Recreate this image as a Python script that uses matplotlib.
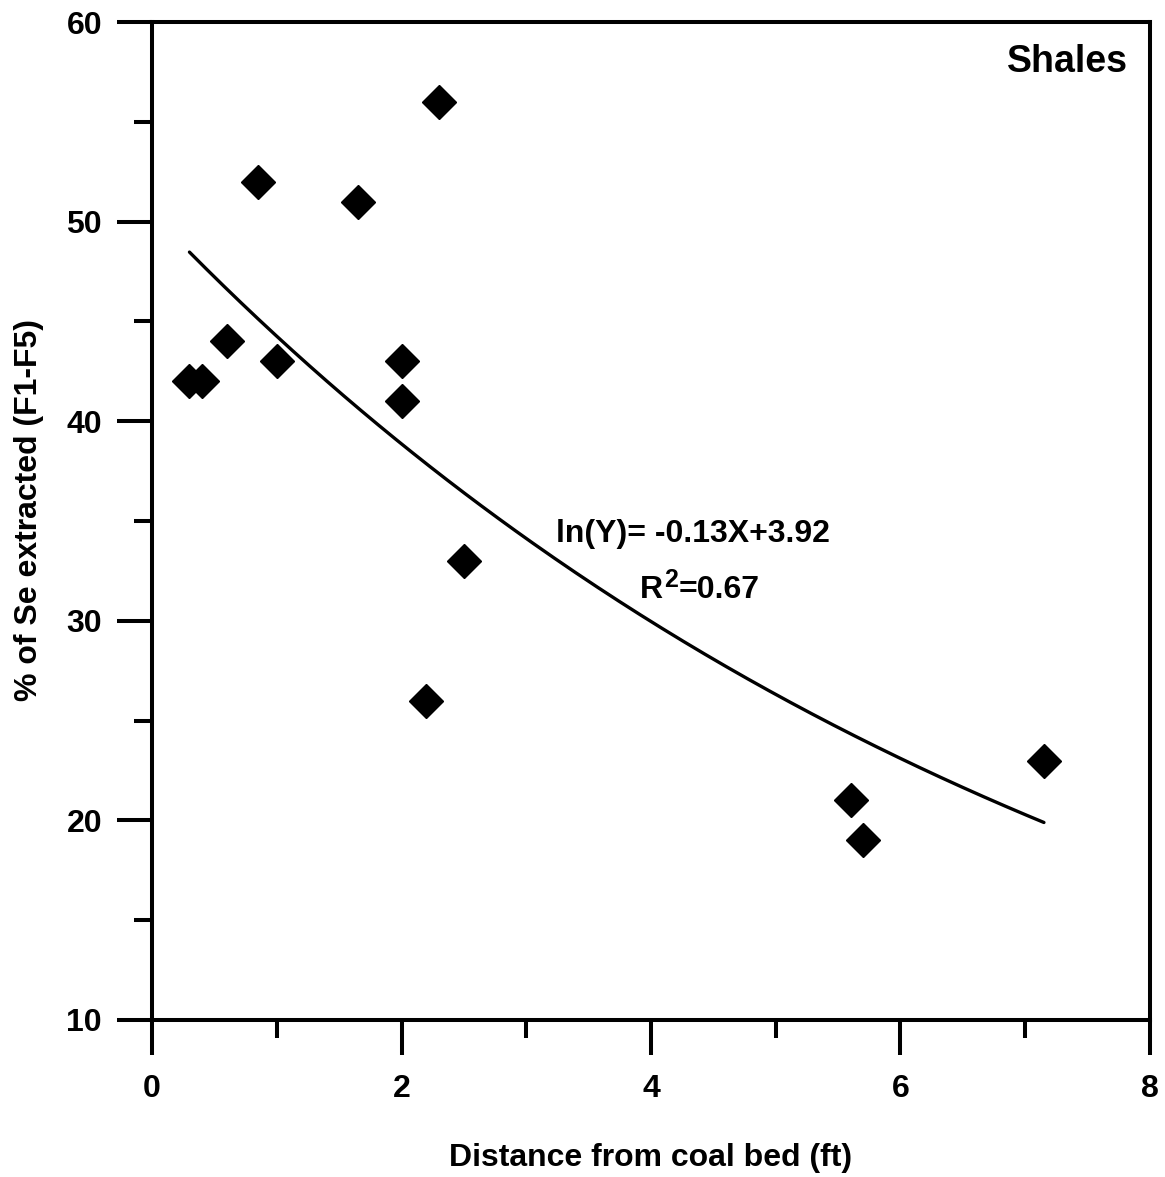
import numpy as np
import matplotlib
matplotlib.use("Agg")
import matplotlib.pyplot as plt
from matplotlib.ticker import MultipleLocator

plt.rcParams['font.family'] = ['Liberation Sans', 'DejaVu Sans']
plt.rcParams['font.weight'] = 'bold'

# distance from coal bed (ft) and % of Se extracted (F1-F5)
distancia = [0.3, 0.4, 0.6, 0.85, 1.0, 1.65, 2.0, 2.0, 2.2, 2.3, 2.5, 5.6, 5.7, 7.15]
se_extraido = [42, 42, 44, 52, 43, 51, 43, 41, 26, 56, 33, 21, 19, 23]

# exponential fit ln(Y) = a*X + b
coef_a = -0.13
coef_b = 3.92
r2 = 0.67

fig = plt.figure(figsize=(11.65, 11.77), dpi=100)
ax = fig.add_axes([0.1305, 0.1334, 0.8566, 0.8479])

ax.plot(distancia, se_extraido, linestyle='none', marker='D', markersize=17,
        color='black', zorder=3)

xs = np.linspace(min(distancia), max(distancia), 200)
ax.plot(xs, np.exp(coef_a * xs + coef_b), color='black', linewidth=2.4,
        solid_capstyle='round')

ax.set_xlim(0, 8)
ax.set_ylim(10, 60)
ax.xaxis.set_major_locator(MultipleLocator(2))
ax.xaxis.set_minor_locator(MultipleLocator(1))
ax.yaxis.set_major_locator(MultipleLocator(10))
ax.yaxis.set_minor_locator(MultipleLocator(5))

for lado in ax.spines.values():
    lado.set_linewidth(2.9)

ax.tick_params(which='major', direction='out', length=25, width=2.9,
               labelsize=23, pad=14)
ax.tick_params(which='minor', direction='out', length=13, width=2.9)
ax.tick_params(axis='y', which='major', pad=11)

ax.set_xlabel("Distance from coal bed (ft)", fontsize=23, fontweight='bold',
              labelpad=28)
ax.set_ylabel("% of Se extracted (F1-F5)", fontsize=23, fontweight='bold')
ax.yaxis.set_label_coords(-0.108, 0.511)

ax.text(7.82, 58.0, "Shales", fontsize=27, fontweight='bold',
        ha='right', va='center')
ax.text(4.34, 33.95, f"ln(Y)= {coef_a:.2f}X+{coef_b:.2f}", fontsize=23,
        fontweight='bold', ha='center', va='baseline')

# R^2 with a large raised exponent
t_r = ax.text(3.91, 31.14, "R", fontsize=23, fontweight='bold',
              ha='left', va='baseline')
t_2 = ax.annotate("2", xy=(1, 0), xycoords=t_r, xytext=(1, 9.5),
                  textcoords='offset points', fontsize=18, fontweight='bold',
                  ha='left', va='bottom')
ax.annotate(f"={r2:.2f}", xy=(1, 0), xycoords=(t_2, t_r), xytext=(0.5, 0),
            textcoords='offset points', fontsize=23, fontweight='bold',
            ha='left', va='bottom')

fig.savefig("out.png", dpi=100)
